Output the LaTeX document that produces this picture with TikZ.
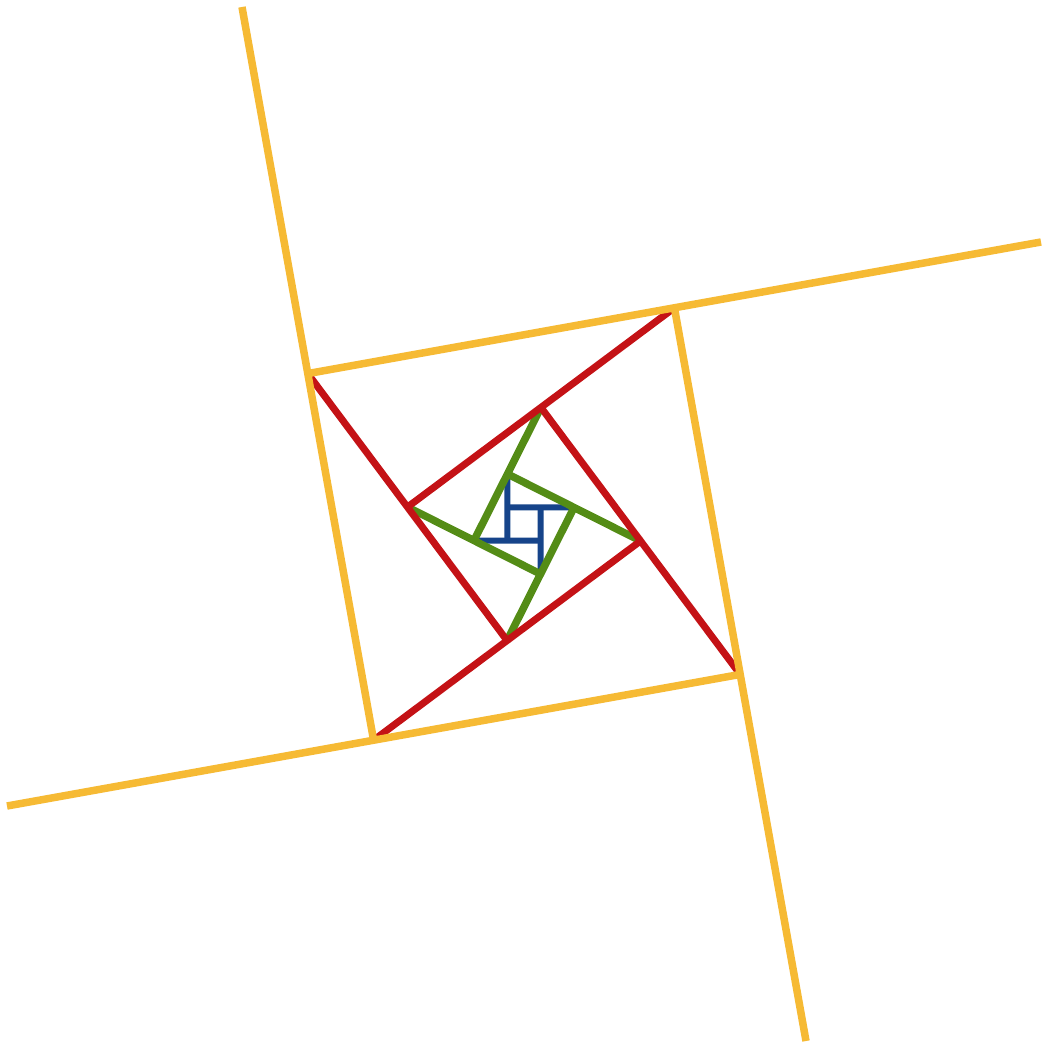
\documentclass[tikz,border=0pt]{standalone}
\usetikzlibrary{calc}
\definecolor{cOrange}{RGB}{246,186,52}
\definecolor{cRed}{RGB}{196,18,22}
\definecolor{cGreen}{RGB}{84,140,22}
\definecolor{cBlue}{RGB}{22,68,138}
\tikzset{
  orangeline/.style={draw=cOrange, line width=7.5pt},
  redline/.style={draw=cRed, line width=7pt},
  greenline/.style={draw=cGreen, line width=7.5pt},
  blueline/.style={draw=cBlue, line width=6pt}
}
\begin{document}
\begin{tikzpicture}[x=1pt,y=-1pt]
\fill[white] (0,0) rectangle (1044,1048);
\useasboundingbox (0,0) rectangle (1044,1048);
% invisible outer square
\coordinate (a1) at (242,7);
\coordinate (a2) at (1041,242);
\coordinate (a3) at (806,1041);
\coordinate (a4) at (7,806);
% level b (orange square)
\coordinate (b1) at ($0.6*(a1)+0.2*(a3)+0.2*(a4)$);
\coordinate (b2) at ($0.6*(a2)+0.2*(a4)+0.2*(a1)$);
\coordinate (b3) at ($0.6*(a3)+0.2*(a1)+0.2*(a2)$);
\coordinate (b4) at ($0.6*(a4)+0.2*(a2)+0.2*(a3)$);
% level c (red square)
\coordinate (c1) at ($0.6*(b1)+0.2*(b3)+0.2*(b4)$);
\coordinate (c2) at ($0.6*(b2)+0.2*(b4)+0.2*(b1)$);
\coordinate (c3) at ($0.6*(b3)+0.2*(b1)+0.2*(b2)$);
\coordinate (c4) at ($0.6*(b4)+0.2*(b2)+0.2*(b3)$);
% level d (green square)
\coordinate (d1) at ($0.6*(c1)+0.2*(c3)+0.2*(c4)$);
\coordinate (d2) at ($0.6*(c2)+0.2*(c4)+0.2*(c1)$);
\coordinate (d3) at ($0.6*(c3)+0.2*(c1)+0.2*(c2)$);
\coordinate (d4) at ($0.6*(c4)+0.2*(c2)+0.2*(c3)$);
% level e (blue square)
\coordinate (e1) at ($0.6*(d1)+0.2*(d3)+0.2*(d4)$);
\coordinate (e2) at ($0.6*(d2)+0.2*(d4)+0.2*(d1)$);
\coordinate (e3) at ($0.6*(d3)+0.2*(d1)+0.2*(d2)$);
\coordinate (e4) at ($0.6*(d4)+0.2*(d2)+0.2*(d3)$);
% blue
\draw[blueline] (d1) -- (e4);
\draw[blueline] (d2) -- (e1);
\draw[blueline] (d3) -- (e2);
\draw[blueline] (d4) -- (e3);
% green
\draw[greenline] (c1) -- (d4);
\draw[greenline] (c2) -- (d1);
\draw[greenline] (c3) -- (d2);
\draw[greenline] (c4) -- (d3);
% red
\draw[redline] (b1) -- (c4);
\draw[redline] (b2) -- (c1);
\draw[redline] (b3) -- (c2);
\draw[redline] (b4) -- (c3);
% orange
\draw[orangeline] (a1) -- (b4);
\draw[orangeline] (a2) -- (b1);
\draw[orangeline] (a3) -- (b2);
\draw[orangeline] (a4) -- (b3);
\end{tikzpicture}
\end{document}
